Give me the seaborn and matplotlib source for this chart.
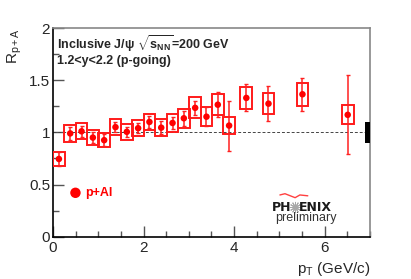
import numpy as np
import pandas as pd
import seaborn as sns
import matplotlib
matplotlib.use("Agg")
import matplotlib.pyplot as plt
from matplotlib.patches import Rectangle

# J/psi R_pA vs pT, p+Al, forward rapidity
pt = [0.13, 0.38, 0.63, 0.88, 1.13, 1.38, 1.63, 1.88, 2.13, 2.39,
      2.64, 2.89, 3.14, 3.39, 3.64, 3.89, 4.27, 4.76, 5.51, 6.51]
rpa = [0.745, 0.99, 1.01, 0.95, 0.925, 1.05, 1.005, 1.04, 1.10, 1.045,
       1.09, 1.135, 1.235, 1.15, 1.265, 1.065, 1.33, 1.275, 1.365, 1.168]
stat_err = [0.07, 0.065, 0.055, 0.05, 0.06, 0.05, 0.05, 0.05, 0.055, 0.06,
            0.06, 0.07, 0.07, 0.09, 0.12, 0.24, 0.13, 0.17, 0.16, 0.38]
sys_err = [0.065, 0.08, 0.075, 0.075, 0.07, 0.08, 0.075, 0.077, 0.08, 0.08,
           0.085, 0.09, 0.10, 0.09, 0.10, 0.085, 0.105, 0.10, 0.11, 0.09]
global_err = 0.1
box_halfwidth = 0.13

df = pd.DataFrame({"pt": pt, "rpa": rpa, "stat": stat_err, "sys": sys_err})

sns.set_style("ticks")
plt.rcParams["font.family"] = ["Liberation Sans", "DejaVu Sans"]
plt.rcParams["mathtext.fontset"] = "custom"
plt.rcParams["mathtext.rm"] = "Liberation Sans"
plt.rcParams["mathtext.bf"] = "Liberation Sans:bold"
plt.rcParams["mathtext.it"] = "Liberation Sans:italic"

fig = plt.figure(figsize=(4.11, 2.79), dpi=100)
ax = fig.add_axes([0.129, 0.1516, 0.771, 0.748])

# systematic boxes
for _, r in df.iterrows():
    ax.add_patch(Rectangle((r.pt - box_halfwidth, r.rpa - r.sys), 2 * box_halfwidth, 2 * r.sys,
                           fill=False, edgecolor="#ff1a1a", linewidth=1.4, zorder=3))

# statistical errors + points
ax.errorbar(df.pt, df.rpa, yerr=df.stat, fmt="none", ecolor="#ff2020", elinewidth=1.1,
            capsize=1.2, capthick=1.0, zorder=4)
sns.scatterplot(data=df, x="pt", y="rpa", ax=ax, color="red", s=22, edgecolor="none",
                zorder=5, label="p+Al")

ax.axhline(1.0, color="#444444", linestyle=(0, (3, 2)), linewidth=0.7, zorder=1)
ax.add_patch(Rectangle((6.89, 1 - global_err), 0.11, 2 * global_err, facecolor="black",
                       edgecolor="none", zorder=6, clip_on=False))

ax.set_xlim(0, 7)
ax.set_ylim(0, 2)
ax.set_xticks([0, 2, 4, 6])
ax.set_xticks(np.arange(0, 7.01, 0.5), minor=True)
ax.set_yticks([0, 0.5, 1, 1.5, 2])
ax.set_yticklabels(["0", "0.5", "1", "1.5", "2"])
ax.set_yticks(np.arange(0, 2.01, 0.25), minor=True)
ax.tick_params(which="both", direction="in", top=False, right=False, color="#555555",
               labelsize=11)
ax.tick_params(which="major", length=8, width=1)
ax.tick_params(which="minor", length=4.5, width=1)
ax.tick_params(axis="y", pad=2)
ax.tick_params(axis="x", pad=3)

for s in ["left", "bottom"]:
    ax.spines[s].set_color("black")
    ax.spines[s].set_linewidth(1.2)
for s in ["top", "right"]:
    ax.spines[s].set_color("#888888")
    ax.spines[s].set_linewidth(1.2)

ax.set_ylabel(r"$\mathregular{R_{p+A}}$", fontsize=11, loc="top", labelpad=4)
ax.set_xlabel(r"$\mathregular{p_{T}}$ (GeV/c)", fontsize=11, loc="right", labelpad=4)

ax.text(0.013, 0.975, r"Inclusive J/ψ $\sqrt{\mathbf{s}_{\mathbf{NN}}}$=200 GeV", transform=ax.transAxes,
        fontsize=9, fontweight="bold", va="top", ha="left")
ax.text(0.013, 0.87, "1.2<y<2.2 (p-going)", transform=ax.transAxes,
        fontsize=9, fontweight="bold", va="top", ha="left")

ax.legend(loc="center left", bbox_to_anchor=(0.055, 0.209), frameon=False, borderpad=0,
          borderaxespad=0, handlelength=0.8, handletextpad=0.4, markerscale=1.6,
          labelcolor="red", prop={"weight": "bold", "size": 9})

# PHENIX preliminary logo
ax.text(0.753, 0.142, "PH", transform=ax.transAxes, fontsize=9, fontweight="bold",
        family="DejaVu Sans", ha="right", va="center", color="#1a1a1a")
ax.text(0.777, 0.142, "ENIX", transform=ax.transAxes, fontsize=9, fontweight="bold",
        family="DejaVu Sans", ha="left", va="center", color="#1a1a1a")
ax.plot([0.764], [0.142], transform=ax.transAxes, marker=(12, 2, 0), markersize=8,
        color="#a8a8a8", markeredgewidth=0.7, clip_on=False)
ax.text(0.797, 0.088, "preliminary", transform=ax.transAxes, fontsize=9,
        ha="center", va="center", color="#333333")
wx = [0.716, 0.732, 0.764, 0.779, 0.804]
wy = [0.200, 0.206, 0.187, 0.200, 0.196]
ax.plot(wx, wy, transform=ax.transAxes, color="#ff4040", linewidth=1.0, clip_on=False)

fig.savefig("out.png", dpi=100)
